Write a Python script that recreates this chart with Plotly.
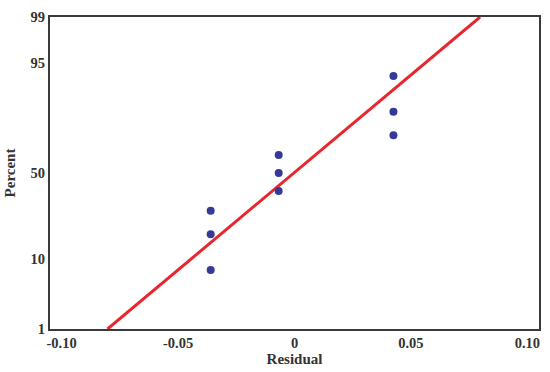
import plotly.graph_objects as go
from statistics import NormalDist

# Data
residuals = [-0.0360, -0.0360, -0.0360, -0.0068, -0.0068, -0.0068, 0.0425, 0.0425, 0.0425]
percents = [7.4, 18.1, 28.7, 39.4, 50.0, 60.6, 71.3, 81.9, 92.6]
fit_line_percent = [1, 99]
fit_line_residual = [-0.0803, 0.0797]
y_tick_percents = [1, 10, 50, 95, 99]
x_tick_values = [-0.10, -0.05, 0, 0.05, 0.10]
x_tick_labels = ["-0.10", "-0.05", "0", "0.05", "0.10"]

nd = NormalDist()
z = lambda p: nd.inv_cdf(p / 100.0)

pts_y = [z(p) for p in percents]
line_y = [z(p) for p in fit_line_percent]

fig = go.Figure()
fig.add_trace(go.Scatter(
    x=fit_line_residual, y=line_y, mode="lines",
    line=dict(color="#e8262d", width=3), hoverinfo="skip", showlegend=False,
))
fig.add_trace(go.Scatter(
    x=residuals, y=pts_y, mode="markers",
    marker=dict(color="#35399a", size=8), showlegend=False,
))

font_family = "Liberation Serif, DejaVu Serif, serif"
tick_font = dict(family=font_family, size=14.5, color="#333333", weight="bold")
title_font = dict(family=font_family, size=15, color="#333333", weight="bold")
fig.update_layout(
    width=550, height=372,
    margin=dict(l=47, r=9, t=16, b=43),
    paper_bgcolor="white", plot_bgcolor="white",
    font=dict(family=font_family, size=13, color="#333333", weight="bold"),
    xaxis=dict(
        range=[-0.105, 0.105], tickvals=x_tick_values, ticktext=x_tick_labels,
        showgrid=False, zeroline=False, showline=True, mirror=True,
        linecolor="#3a3a3a", linewidth=2, ticks="",
        tickfont=tick_font, ticklabeloverflow="allow",
        title=dict(text="Residual", standoff=1, font=title_font),
    ),
    yaxis=dict(
        range=[z(1), z(99)], tickvals=[z(p) for p in y_tick_percents],
        ticktext=[str(p) for p in y_tick_percents],
        showgrid=False, zeroline=False, showline=True, mirror=True,
        linecolor="#3a3a3a", linewidth=2, ticks="",
        tickfont=tick_font, ticklabeloverflow="allow",
        title=dict(text="Percent", standoff=11, font=title_font),
    ),
)

fig.write_html("out.html", config={"displayModeBar": False},
               post_script="document.body.style.margin='0';")
